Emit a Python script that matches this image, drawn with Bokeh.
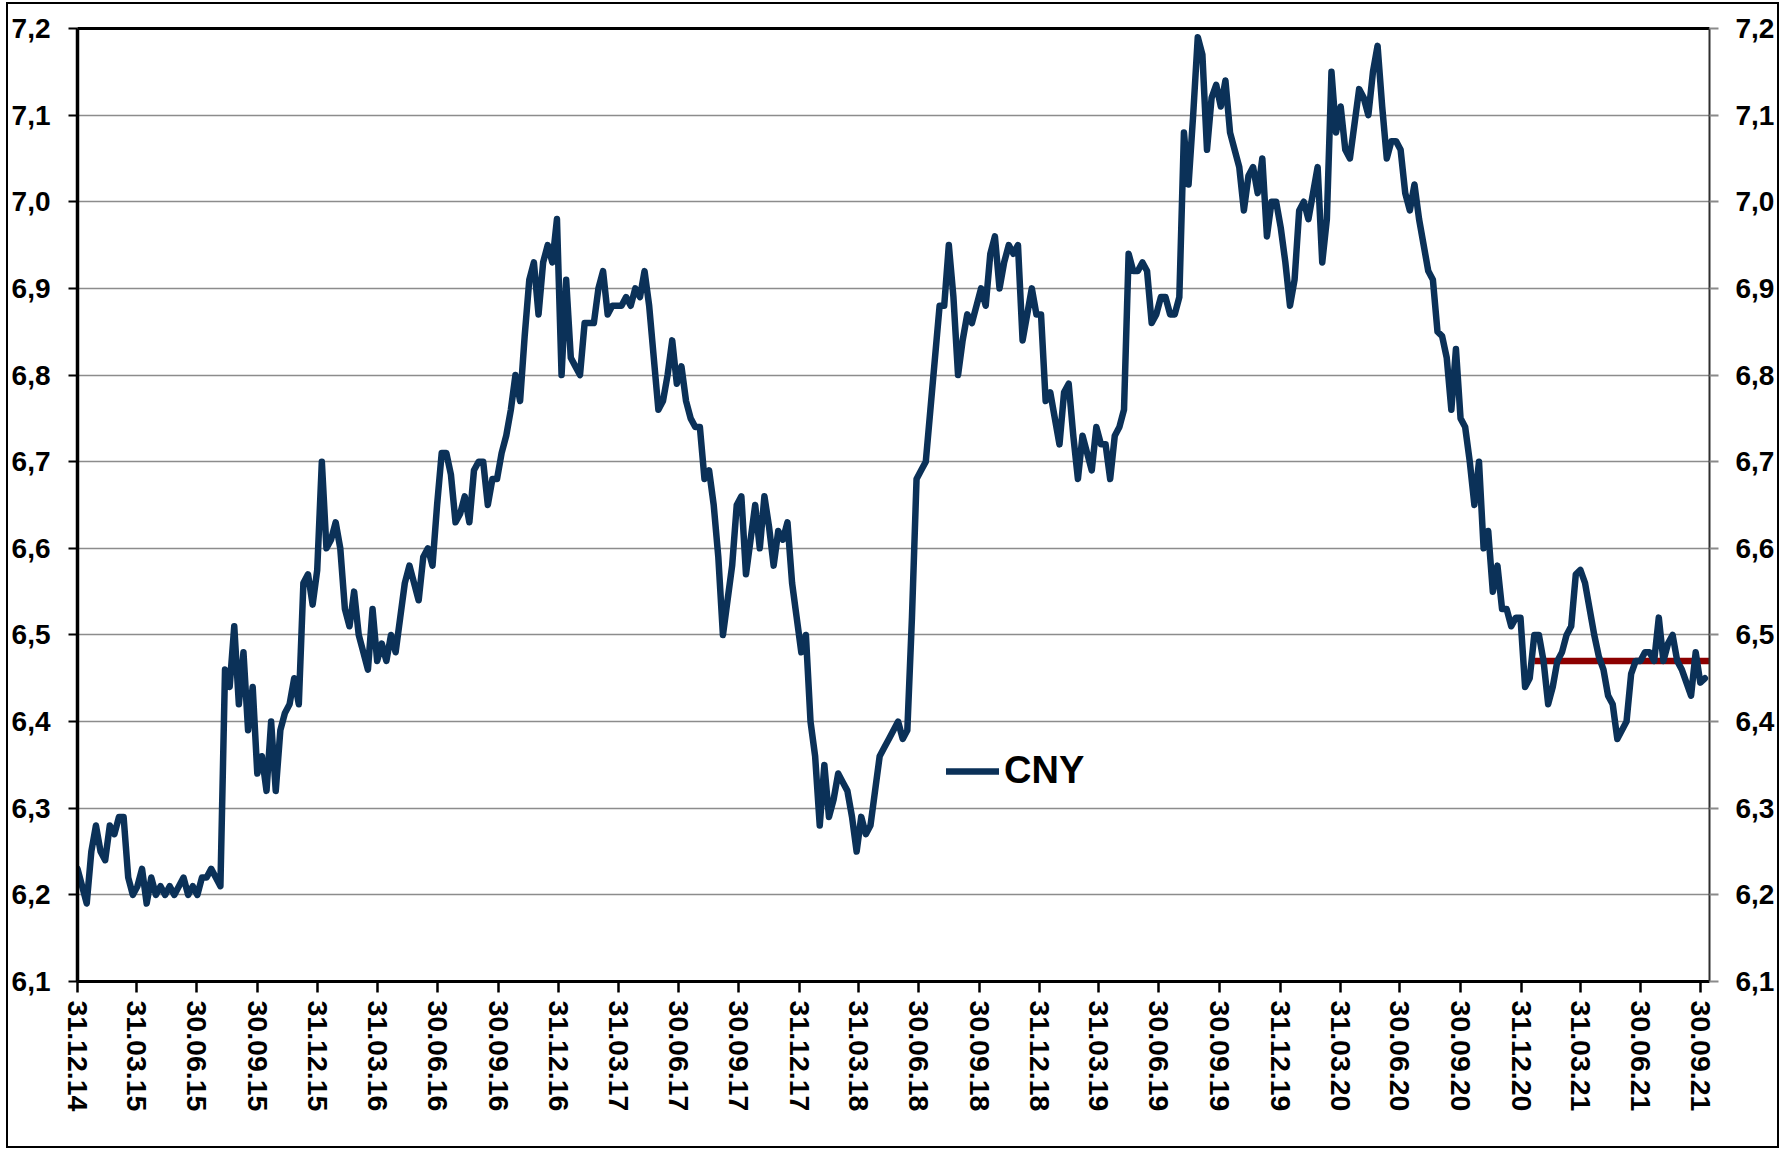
import pandas as pd
from bokeh.plotting import figure
from bokeh.models import (Range1d, FixedTicker, LinearAxis, DatetimeAxis,
                          CustomJSTickFormatter, Legend, LegendItem)
from bokeh.embed import file_html
from bokeh.resources import INLINE

# ---------------- data (weekly readings of USD/CNY) ----------------
start_date = "2014-12-31"
cny = [
    6.23, 6.21, 6.19, 6.25, 6.28, 6.25, 6.24, 6.28, 6.27, 6.29,
    6.29, 6.22, 6.20, 6.21, 6.23, 6.19, 6.22, 6.20, 6.21, 6.20,
    6.21, 6.20, 6.21, 6.22, 6.20, 6.21, 6.20, 6.22, 6.22, 6.23,
    6.22, 6.21, 6.46, 6.44, 6.51, 6.42, 6.48, 6.39, 6.44, 6.34,
    6.36, 6.32, 6.40, 6.32, 6.39, 6.41, 6.42, 6.45, 6.42, 6.56,
    6.57, 6.535, 6.575, 6.70, 6.60, 6.61, 6.63, 6.60, 6.53, 6.51,
    6.55, 6.50, 6.48, 6.46, 6.53, 6.47, 6.49, 6.47, 6.50, 6.48,
    6.52, 6.56, 6.58, 6.56, 6.54, 6.59, 6.60, 6.58, 6.65, 6.71,
    6.71, 6.685, 6.63, 6.64, 6.66, 6.63, 6.69, 6.70, 6.70, 6.65,
    6.68, 6.68, 6.71, 6.73, 6.76, 6.80, 6.77, 6.845, 6.91, 6.93,
    6.87, 6.93, 6.95, 6.93, 6.98, 6.80, 6.91, 6.82, 6.81, 6.80,
    6.86, 6.86, 6.86, 6.90, 6.92, 6.87, 6.88, 6.88, 6.88, 6.89,
    6.88, 6.90, 6.89, 6.92, 6.88, 6.82, 6.76, 6.77, 6.80, 6.84,
    6.79, 6.81, 6.77, 6.75, 6.74, 6.74, 6.68, 6.69, 6.65, 6.59,
    6.50, 6.54, 6.58, 6.65, 6.66, 6.57, 6.61, 6.65, 6.60, 6.66,
    6.625, 6.58, 6.62, 6.61, 6.63, 6.56, 6.52, 6.48, 6.50, 6.40,
    6.36, 6.28, 6.35, 6.29, 6.31, 6.34, 6.33, 6.32, 6.29, 6.25,
    6.29, 6.27, 6.28, 6.32, 6.36, 6.37, 6.38, 6.39, 6.40, 6.38,
    6.39, 6.52, 6.68, 6.69, 6.70, 6.76, 6.82, 6.88, 6.88, 6.95,
    6.89, 6.80, 6.84, 6.87, 6.86, 6.88, 6.90, 6.88, 6.94, 6.96,
    6.90, 6.93, 6.95, 6.94, 6.95, 6.84, 6.87, 6.90, 6.87, 6.87,
    6.77, 6.78, 6.75, 6.72, 6.78, 6.79, 6.73, 6.68, 6.73, 6.71,
    6.69, 6.74, 6.72, 6.72, 6.68, 6.73, 6.74, 6.76, 6.94, 6.92,
    6.92, 6.93, 6.92, 6.86, 6.87, 6.89, 6.89, 6.87, 6.87, 6.89,
    7.08, 7.02, 7.10, 7.19, 7.17, 7.06, 7.12, 7.135, 7.11, 7.14,
    7.08, 7.06, 7.04, 6.99, 7.03, 7.04, 7.01, 7.05, 6.96, 7.00,
    7.00, 6.97, 6.93, 6.88, 6.91, 6.99, 7.00, 6.98, 7.01, 7.04,
    6.93, 6.98, 7.15, 7.08, 7.11, 7.06, 7.05, 7.09, 7.13, 7.12,
    7.10, 7.15, 7.18, 7.11, 7.05, 7.07, 7.07, 7.06, 7.01, 6.99,
    7.02, 6.98, 6.95, 6.92, 6.91, 6.85, 6.845, 6.82, 6.76, 6.83,
    6.75, 6.74, 6.70, 6.65, 6.70, 6.60, 6.62, 6.55, 6.58, 6.53,
    6.53, 6.51, 6.52, 6.52, 6.44, 6.45, 6.50, 6.50, 6.47, 6.42,
    6.44, 6.47, 6.48, 6.50, 6.51, 6.57, 6.575, 6.56, 6.53, 6.50,
    6.475, 6.46, 6.43, 6.42, 6.38, 6.39, 6.40, 6.455, 6.47, 6.47,
    6.48, 6.48, 6.47, 6.52, 6.47, 6.49, 6.50, 6.47, 6.46, 6.445,
    6.43, 6.48, 6.445, 6.45,
]
dates = pd.date_range(start_date, periods=len(cny), freq="7D")

target_dates = ["2021-01-20", "2021-10-13"]
target_values = [6.47, 6.47]

tick_dates = [
    "2014-12-31", "2015-03-31", "2015-06-30", "2015-09-30",
    "2015-12-31", "2016-03-31", "2016-06-30", "2016-09-30",
    "2016-12-31", "2017-03-31", "2017-06-30", "2017-09-30",
    "2017-12-31", "2018-03-31", "2018-06-30", "2018-09-30",
    "2018-12-31", "2019-03-31", "2019-06-30", "2019-09-30",
    "2019-12-31", "2020-03-31", "2020-06-30", "2020-09-30",
    "2020-12-31", "2021-03-31", "2021-06-30", "2021-09-30",
]
y_ticks = [6.1, 6.2, 6.3, 6.4, 6.5, 6.6, 6.7, 6.8, 6.9, 7.0, 7.1, 7.2]
x_start, x_end = "2014-12-31", "2021-10-13"
series_name = "CNY"

# ---------------- figure ----------------
FONT = "Liberation Sans"
NAVY = "#0b3158"

p = figure(
    frame_width=1632, frame_height=953,
    x_axis_type="datetime",
    x_range=Range1d(pd.Timestamp(x_start), pd.Timestamp(x_end)),
    y_range=Range1d(y_ticks[0], y_ticks[-1]),
    output_backend="svg", toolbar_location=None,
    min_border_left=69, min_border_right=67,
    min_border_top=24, min_border_bottom=165,
)
p.styles = {"border": "2px solid black", "margin": "2px 0px 0px 6px"}
p.outline_line_color = None
p.background_fill_color = "white"
p.border_fill_color = "white"

x_tick_ms = [int(pd.Timestamp(d).value // 10**6) for d in tick_dates]
xticker = FixedTicker(ticks=x_tick_ms)
yticker = FixedTicker(ticks=y_ticks)

date_fmt = CustomJSTickFormatter(code="""
const d = new Date(tick);
const dd = String(d.getUTCDate()).padStart(2, '0');
const mm = String(d.getUTCMonth() + 1).padStart(2, '0');
const yy = String(d.getUTCFullYear() % 100).padStart(2, '0');
return dd + '.' + mm + '.' + yy;
""")
comma_fmt = CustomJSTickFormatter(code="return tick.toFixed(1).replace('.', ',');")

# bottom axis
xa = p.xaxis[0]
xa.ticker = xticker
xa.formatter = date_fmt
xa.major_label_orientation = "vertical"
xa.major_label_text_font = FONT
xa.major_label_text_font_style = "bold"
xa.major_label_text_font_size = "28.5px"
xa.major_label_text_color = "black"
xa.major_label_standoff = 8
xa.axis_line_width = 3
xa.axis_line_color = "black"
xa.major_tick_line_color = "black"
xa.major_tick_line_width = 2.5
xa.major_tick_out = 11
xa.major_tick_in = 0
xa.minor_tick_line_color = None

# left axis
ya = p.yaxis[0]
ya.ticker = yticker
ya.formatter = comma_fmt
ya.major_label_text_font = FONT
ya.major_label_text_font_style = "bold"
ya.major_label_text_font_size = "28px"
ya.major_label_text_color = "black"
ya.major_label_standoff = 18
ya.axis_line_width = 3.5
ya.axis_line_color = "black"
ya.major_tick_line_color = "black"
ya.major_tick_line_width = 2
ya.major_tick_out = 9
ya.major_tick_in = 0
ya.minor_tick_line_color = None

# right axis
ra = LinearAxis(ticker=yticker, formatter=comma_fmt)
ra.major_label_text_font = FONT
ra.major_label_text_font_style = "bold"
ra.major_label_text_font_size = "28px"
ra.major_label_text_color = "black"
ra.major_label_standoff = 17
ra.axis_line_width = 2
ra.axis_line_color = "#303030"
ra.major_tick_line_color = "#8a8a8a"
ra.major_tick_line_width = 2
ra.major_tick_out = 9
ra.major_tick_in = 0
ra.minor_tick_line_color = None
p.add_layout(ra, "right")

# top border line
ta = DatetimeAxis(ticker=FixedTicker(ticks=[]))
ta.major_label_text_font_size = "0px"
ta.major_tick_line_color = None
ta.minor_tick_line_color = None
ta.axis_line_width = 3
ta.axis_line_color = "black"
p.add_layout(ta, "above")

p.xgrid.visible = False
p.ygrid.ticker = yticker
p.ygrid.grid_line_color = "#8c8c8c"
p.ygrid.grid_line_width = 1.5

# series
p.line(pd.to_datetime(target_dates), target_values,
       line_color="#8c0000", line_width=6.5)
r_cny = p.line(dates, cny, line_color=NAVY, line_width=6.5,
               line_join="round", line_cap="round")

legend = Legend(
    items=[LegendItem(label=series_name, renderers=[r_cny])],
    location=(869, 189),
    glyph_width=53, glyph_height=20,
    label_standoff=5,
    label_text_font=FONT, label_text_font_style="bold",
    label_text_font_size="38px", label_text_color="black",
    border_line_color=None, background_fill_alpha=0,
    padding=0, margin=0,
)
p.add_layout(legend, "center")

open("out.html", "w").write(file_html(p, INLINE))
